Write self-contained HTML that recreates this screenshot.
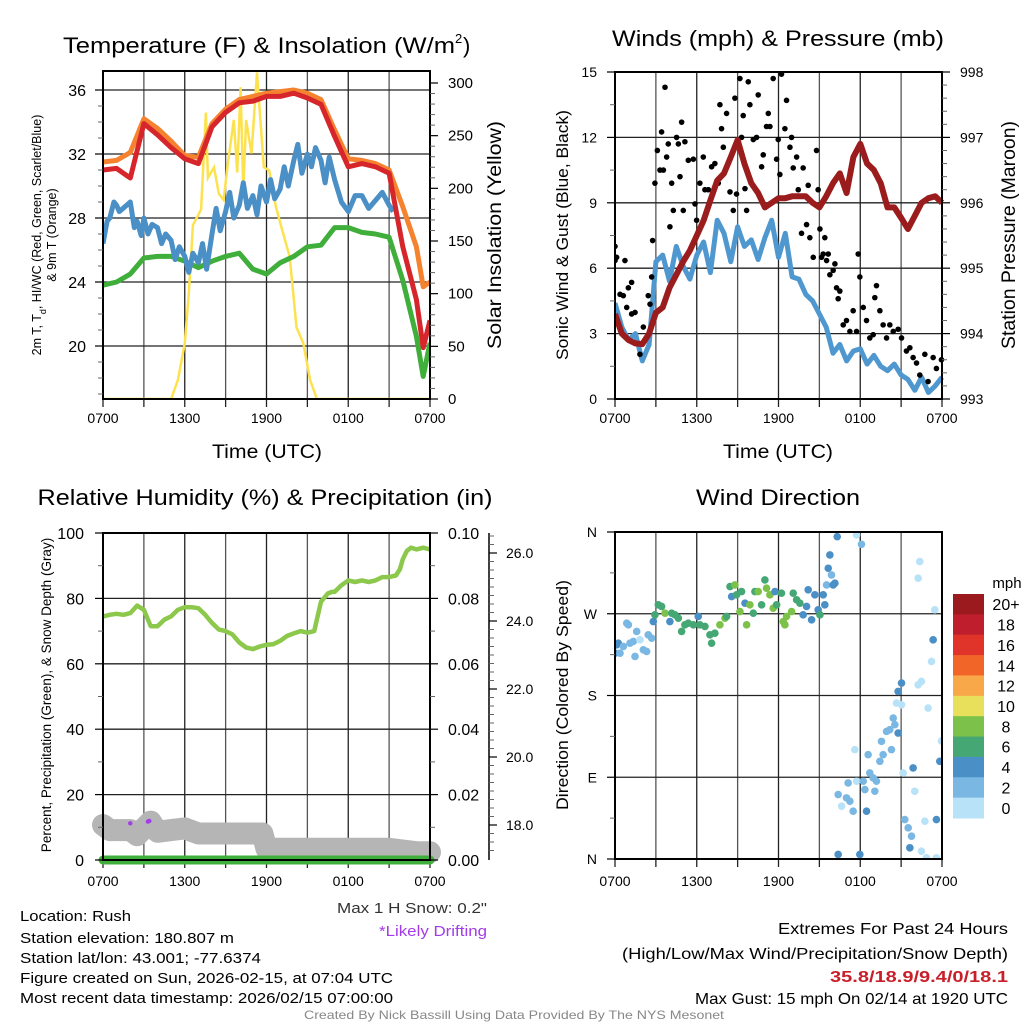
<!DOCTYPE html>
<html><head><meta charset="utf-8"><style>
html,body{margin:0;padding:0;background:#fff;}
svg{display:block;font-family:"Liberation Sans",sans-serif;}
</style></head><body>
<svg id="c" width="1024" height="1024" viewBox="0 0 1024 1024"></svg>
<script>
// ---------- DATA ----------
const hrs = [0,1,2,3,4,5,6,7,8,9,10,11,12,13,14,15,16,17,18,19,20,21,22,23,23.5,24];
const tempRed = [31.0,31.1,30.5,33.9,33.2,32.4,31.7,31.4,33.7,34.6,35.2,35.3,35.6,35.6,35.8,35.5,35.1,33.1,31.2,31.4,31.2,30.8,26.2,22.9,19.9,21.6];
const tempOrange = [31.5,31.6,32.1,34.2,33.6,32.8,31.9,31.8,33.9,34.8,35.4,35.6,35.8,35.9,36.0,35.8,35.4,33.5,31.7,31.6,31.4,31.0,28.7,26.2,23.7,24.0];
const tempGreen = [23.8,24.0,24.5,25.5,25.6,25.6,25.3,24.9,25.3,25.6,25.8,24.8,24.5,25.2,25.6,26.2,26.3,27.4,27.4,27.1,27.0,26.8,24.1,20.6,18.1,20.2];
const blueHrs = [0,0.3,0.5,0.8,1,1.2,2,2.3,2.5,2.8,3,3.3,3.6,4,4.3,4.6,5,5.3,5.6,6,6.3,6.6,7,7.3,7.6,8,8.3,8.6,9,9.3,9.6,10,10.3,10.6,11,11.3,11.6,12,12.3,12.6,13,13.3,13.6,14,14.3,14.6,15,15.3,15.6,16,16.3,16.6,17,17.5,18,18.5,19,19.5,20,20.5,21,21.3];
const tempBlue = [26.4,27.8,28.0,29.0,28.8,28.4,29.0,27.4,27.8,26.9,28.0,27.0,27.6,27.4,26.4,27.0,26.6,25.4,26.2,25.6,24.6,25.8,25.2,26.4,24.8,27.0,28.6,27.2,28.4,29.6,28.0,28.8,30.2,28.6,29.4,28.2,30.0,29.0,30.4,29.2,29.8,31.2,30.0,31.6,32.6,30.8,32.0,31.2,32.4,31.6,30.2,31.8,30.4,29.0,28.4,29.4,29.4,28.6,29.1,29.6,28.8,28.4];
const solarHrs = [0,5.0,5.5,6.0,6.3,6.6,7.2,7.55,7.7,8.15,8.5,8.85,9.2,9.6,9.85,10.1,10.3,10.5,10.9,11.3,11.8,12.2,12.7,13.2,13.7,14.2,14.7,15.2,15.7,24];
const solarVals = [0,0,18,53,100,165,180,272,210,220,195,189,227,265,215,296,196,265,233,310,220,217,182,158,135,68,53,18,0,0];
const spdHrs = [0,0.5,1,1.5,2,2.5,3,3.5,4,4.5,5,5.5,6,6.5,7,7.5,8,8.5,9,9.5,10,10.5,11,11.5,12,12.5,13,13.5,14,14.5,15,15.5,16,16.5,17,17.5,18,18.5,19,19.5,20,20.5,21,21.5,22,22.5,23,23.5,24];
const windSpd = [4.4,3.3,2.7,3.0,1.75,2.5,6.3,6.6,5.4,7.0,6.1,5.5,6.6,7.2,5.8,8.2,7.6,6.3,7.9,7.0,7.3,6.4,7.4,8.2,6.5,7.6,5.6,5.5,4.8,4.5,3.9,3.3,2.1,2.5,1.75,2.2,2.3,1.6,2.0,1.5,1.3,1.6,1.1,0.9,0.4,1.0,0.3,0.6,1.0];
const pressure = [994.30,994.0,993.9,993.85,993.84,994.0,994.32,994.4,994.7,994.9,995.1,995.27,995.5,995.73,996.04,996.34,996.45,996.7,996.96,996.6,996.3,996.15,995.93,996.0,996.07,996.07,996.1,996.1,996.1,996.0,995.93,996.1,996.3,996.45,996.15,996.7,996.9,996.6,996.5,996.3,995.93,995.93,995.77,995.6,995.8,996.0,996.07,996.1,996.0];
const gustHrs = [0,0,0.12,0.73,0.37,0.61,0.98,1.22,0.86,1.22,1.47,1.83,2.08,2.44,2.57,2.69,2.76,2.93,3.11,3.30,3.42,3.55,3.67,3.79,3.91,4.03,4.16,4.28,4.52,4.65,4.77,4.89,5.01,5.13,5.38,5.75,5.87,5.99,6.23,6.48,6.60,6.85,7.09,7.33,7.58,7.70,7.82,7.95,8.19,8.44,8.68,8.80,8.92,9.17,9.29,9.41,9.54,9.66,9.78,9.90,10.15,10.39,10.51,10.76,10.88,11.12,11.25,11.37,11.61,11.86,11.98,12.10,12.22,12.47,12.59,12.84,12.96,13.08,13.33,13.45,13.69,13.81,14.06,14.18,14.30,14.55,14.79,14.91,15.04,15.16,15.28,15.40,15.53,15.65,15.77,16.01,16.14,16.26,16.38,16.50,16.75,16.99,17.24,17.48,17.73,17.85,17.97,18.22,18.46,18.70,18.95,19.07,19.19,19.44,19.68,19.93,20.17,20.42,20.78,21.03,21.39,21.64,21.88,22.13,22.37,22.74,22.98,23.35,23.59,23.96];
const gustVals = [7.0,6.35,6.5,6.35,4.8,4.74,5.1,5.35,4.2,3.9,3.97,2.05,3.3,4.74,4.35,5.6,7.27,9.9,11.4,10.5,12.25,10.5,14.3,11.1,11.7,7.9,9.9,8.65,12.0,11.7,10.2,12.7,8.65,11.8,10.95,11.0,8.95,8.2,9.9,11.1,9.6,9.6,10.65,10.8,9.9,13.5,12.4,11.55,13.1,9.5,8.65,13.8,9.4,14.7,12.0,13.0,9.65,8.65,14.55,13.5,11.9,12.0,13.95,10.65,11.2,12.5,13.1,12.5,14.7,11.0,11.9,10.3,14.9,12.4,13.7,11.55,12.0,10.6,11.1,9.6,7.6,10.6,8.0,9.8,7.4,6.5,11.4,9.6,7.8,6.5,6.65,7.4,6.35,6.65,5.7,5.9,6.2,5.1,4.6,4.95,3.4,3.6,3.1,4.05,3.1,6.65,5.6,4.2,3.6,2.8,2.95,4.65,5.2,4.05,3.4,2.8,3.4,3.1,3.2,2.8,2.2,2.35,1.9,1.65,1.1,2.05,0.8,1.9,1.4,1.8];
const rhHrs = [0,0.5,1,1.5,2,2.5,3,3.5,4,4.5,5,5.5,6,6.5,7,7.5,8,8.5,9,9.5,10,10.5,11,11.5,12,12.5,13,13.5,14,14.5,15,15.5,16,16.5,16.8,17,17.5,18,18.5,19,19.5,20,20.5,21,21.5,21.8,22,22.3,22.6,23,23.5,24];
const rhVals = [74.5,75,75.3,75,75.5,77.8,76.5,71.5,71.5,73.5,74.5,76.5,77.3,77.3,77.0,75,72.5,70.5,70,69,66.5,65,64.5,65.3,65.8,66,67,68.5,69.3,70,69.5,70,79,81.5,82,82,84,85.5,85,85.5,85,85.5,86.5,86.5,87,89,92,94.5,95.5,95,95.5,95];
const snowHrs = [0,0.5,1,2,2.5,3,3.5,4,5,6,7,8,9,10,11,11.7,12,13,14,15,16,17,18,19,20,21,22,23,24];
const snowDepth = [18.0,17.85,17.85,17.85,17.7,17.9,18.1,17.8,17.85,17.9,17.75,17.75,17.75,17.75,17.75,17.75,17.3,17.3,17.3,17.3,17.3,17.3,17.3,17.3,17.3,17.3,17.25,17.2,17.2];
const precipVals = [0,0];
const driftHrs = [2.0,3.3,3.4];
const driftDepth = [18.05,18.1,18.12];
const dirHrs = [0,0.12,0.24,0.37,0.61,0.86,0.98,1.1,1.34,1.47,1.59,1.83,2.08,2.32,2.44,2.69,2.81,2.93,3.18,3.42,3.67,4.03,4.16,4.4,4.65,4.89,5.13,5.38,5.75,6.11,6.23,6.6,6.97,7.33,7.09,7.7,8.07,8.19,8.44,8.56,8.8,8.92,9.17,9.29,9.54,9.66,9.9,10.15,10.27,10.51,10.76,11,11.12,11.37,11.61,11.74,11.86,12.22,12.35,12.47,12.59,12.96,13.08,13.33,13.57,13.81,14.06,14.18,14.43,14.67,14.91,15.04,15.28,15.4,15.53,15.65,15.77,15.89,16.01,16.14,16.31,17.73,18.09,16.38,16.63,16.99,17.11,17.24,17.48,17.6,17.73,18.22,18.34,18.46,18.58,18.7,18.95,19.07,19.19,19.44,19.56,19.68,19.93,20.17,20.29,20.42,20.54,20.66,20.78,20.78,21.03,21.03,21.15,21.27,21.52,21.64,21.76,21.88,22.0,22.25,22.49,22.74,22.98,23.23,23.35,23.47,22.37,22.25,22.49,22.86,23.59,23.84,23.96,23.59,16.38,17.97];
const dirVals = [226.6,235.8,237.6,226.6,234,259.6,257.8,237.6,239.5,223,250.5,241.3,230.3,228.5,246.8,243.1,261.4,268.8,279.8,278,270.6,261.4,270.6,268.8,265.1,250.5,257.8,259.6,257.8,267,257.8,256,246.8,248.6,237.6,257.8,265.1,267,299.9,288.9,301.7,290.8,272.4,294.4,281.6,257.8,279.8,270.6,294.4,294.4,279.8,307.2,298.1,290.8,276.1,294.4,279.8,292.6,261.4,257.8,267,272.4,292.6,285.3,281.6,268.8,278,296.3,263.3,290.8,274.3,268.8,290.8,279.8,301.7,320.1,334.7,312.7,301.7,303.6,354.9,356.7,346.5,71,58.1,67.3,83.7,63.6,52.6,120.4,85.6,85.6,76.4,52.6,114.9,94.7,89.2,74.6,85.6,107.6,129.5,114.9,140.5,142.4,120.4,155.2,147.9,171.7,138.7,184.5,193.7,169.8,94.7,43.4,34.3,12.3,25.1,100.2,74.6,191.8,195.5,41.6,166.2,217.5,241.3,274.3,327.4,309.1,8.6,1.3,1.3,107.6,130,43.4,5,5];
const dirSpd = [5,5,5,3,3,3,3,3,3,3,3,1,3,3,3,3,5,7,7,7,9,5,7,7,7,7,7,7,7,5,7,7,7,7,7,9,9,7,7,5,9,7,9,7,5,9,9,7,7,9,7,7,9,9,9,5,7,7,9,9,9,9,7,7,7,5,5,5,5,5,5,7,5,5,3,5,5,3,5,5,5,1,3,3,1,3,3,3,3,1,1,3,3,5,3,3,3,3,3,3,3,3,3,3,3,3,3,1,5,5,5,1,1,3,3,5,3,5,1,1,1,1,1,1,5,1,1,1,1,1,1,5,1,5,5,5];
const speedLabels = ["20+","18","16","14","12","10","8","6","4","2","0"];
const speedColors = ["#9a1a1e","#bf1e2d","#e0342a","#f26529","#f8a848","#e8e05a","#7cc24a","#45a874","#4a8fc6","#7ab8e3","#b8e2f8"];
const timeLabels = ["0700","1300","1900","0100","0700"];

// ---------- HELPERS ----------
const NS="http://www.w3.org/2000/svg";
const svg=document.getElementById('c');
function el(tag,attrs,parent){const e=document.createElementNS(NS,tag);for(const k in attrs)e.setAttribute(k,attrs[k]);(parent||svg).appendChild(e);return e;}
function lin(d0,d1,r0,r1){return v=>r0+(v-d0)*(r1-r0)/(d1-d0);}
function txt(s,x,y,size,anchor,fill,extra,parent){const a=Object.assign({x:x,y:y,'font-size':size,'text-anchor':anchor||'start',fill:fill||'#000'},extra||{});if(a.textLength)a.lengthAdjust='spacingAndGlyphs';const t=el('text',a,parent);t.textContent=s;return t;}
function pathFrom(xs,ys,fx,fy){return xs.map((h,i)=>(i?'L':'M')+fx(h).toFixed(1)+' '+fy(ys[i]).toFixed(1)).join(' ');}

function frame(x0,x1,y0,y1,hGrid,name,labY){
  const g=el('g',{});
  
  
  for(let h=3;h<24;h+=3){const x=x0+(x1-x0)*h/24;el('line',{x1:x,y1:y0,x2:x,y2:y1,stroke:(h%6? '#555':'#222'),'stroke-width':1.3},g);
    el('line',{x1:x,y1:y1,x2:x,y2:y1+8,stroke:'#222','stroke-width':1.3},g);}
  el('line',{x1:x0,y1:y1,x2:x0,y2:y1+8,stroke:'#222','stroke-width':1.3},g);
  el('line',{x1:x1,y1:y1,x2:x1,y2:y1+8,stroke:'#222','stroke-width':1.3},g);
  hGrid.forEach(y=>el('line',{x1:x0,y1:y,x2:x1,y2:y,stroke:'#222','stroke-width':1.3},g));
  timeLabels.forEach((s,i)=>{const t=txt(s,x0+(x1-x0)*i/4,labY,14,'middle','#000',{},g);
    
    });
  return g;
}
function border(x0,x1,y0,y1,name){const r=el('rect',{x:x0,y:y0,width:x1-x0,height:y1-y0,fill:'none',stroke:'#000','stroke-width':2});
  
  }
function ticksLeft(x,yv,labels,fy,minor,g){labels.forEach(v=>{const y=fy(v);el('line',{x1:x-8,y1:y,x2:x,y2:y,stroke:'#000','stroke-width':1.2},g);});
  minor.forEach(v=>{const y=fy(v);el('line',{x1:x-5,y1:y,x2:x,y2:y,stroke:'#666','stroke-width':1},g);});}
function ticksRight(x,labels,fy,minor,g){labels.forEach(v=>{const y=fy(v);el('line',{x1:x,y1:y,x2:x+8,y2:y,stroke:'#000','stroke-width':1.2},g);});
  minor.forEach(v=>{const y=fy(v);el('line',{x1:x,y1:y,x2:x+5,y2:y,stroke:'#666','stroke-width':1},g);});}

// ---------- PANEL 1 ----------
(function(){
 const x0=103,x1=430,y0=71,y1=399;
 const fx=lin(0,24,x0,x1), fy=lin(36,20,90,346), fs=lin(0,300,399,83);
 frame(x0,x1,y0,y1,[36,32,28,24,20].map(fy),'temp-panel',423);
 const clip=el('clipPath',{id:'c1'});el('rect',{x:x0,y:y0,width:x1-x0,height:y1-y0},clip);
 const d=el('g',{'clip-path':'url(#c1)'});
 let p=el('path',{d:pathFrom(solarHrs,solarVals,fx,fs),fill:'none',stroke:'#fde24f','stroke-width':2.5},d);
 
 
 p=el('path',{d:pathFrom(hrs,tempGreen,fx,fy),fill:'none',stroke:'#3fae3a','stroke-width':5,'stroke-linejoin':'round'},d);
 
 
 p=el('path',{d:pathFrom(blueHrs,tempBlue,fx,fy),fill:'none',stroke:'#4a8fc6','stroke-width':5,'stroke-linejoin':'round'},d);
 
 
 p=el('path',{d:pathFrom(hrs,tempOrange,fx,fy),fill:'none',stroke:'#f5822f','stroke-width':5,'stroke-linejoin':'round'},d);
 
 
 p=el('path',{d:pathFrom(hrs,tempRed,fx,fy),fill:'none',stroke:'#d7262b','stroke-width':5,'stroke-linejoin':'round'},d);
 
 
 border(x0,x1,y0,y1,'temp-panel');
 const lt=[36,32,28,24,20], lm=[35,34,33,31,30,29,27,26,25,23,22,21,19,18,17];
 ticksLeft(x0,null,lt,fy,lm,svg);
 lt.forEach(v=>txt(String(v),86,fy(v)+6,16,'end'));
 const rt=[0,50,100,150,200,250,300], rm=[10,20,30,40,60,70,80,90,110,120,130,140,160,170,180,190,210,220,230,240,260,270,280,290];
 ticksRight(x1,rt,fs,rm,svg);
 rt.forEach(v=>txt(String(v),448,fs(v)+5,15,'start'));
 let t=txt('Temperature (F) & Insolation (W/m',63,53,22,'start','#000',{textLength:392});
 
 
 txt('2',455,43,13,'start');txt(')',463,53,22,'start');
 t=txt('Time (UTC)',267,458,19,'middle','#000',{textLength:110});
 
 
 t=el('text',{transform:'translate(41,235) rotate(-90)','font-size':12.5,'text-anchor':'middle'});
 t.innerHTML='2m T, T<tspan baseline-shift="sub" font-size="9">d</tspan>, HI/WC (Red, Green, Scarlet/Blue)';
 
 
 txt('& 9m T (Orange)',0,0,12.5,'middle','#000',{transform:'translate(56,235) rotate(-90)'});
 t=txt('Solar Insolation (Yellow)',0,0,19,'middle','#000',{transform:'translate(501,235) rotate(-90)',textLength:228});
 
 
})();

// ---------- PANEL 2 ----------
(function(){
 const x0=615,x1=942,y0=72,y1=399;
 const fx=lin(0,24,x0,x1), fy=lin(0,15,y1,y0), fp=lin(993,998,y1,y0);
 frame(x0,x1,y0,y1,[3,6,9,12].map(fy),'wind-panel',423);
 const clip=el('clipPath',{id:'c2'});el('rect',{x:x0,y:y0-4,width:x1-x0+4,height:y1-y0+8},clip);
 const d=el('g',{'clip-path':'url(#c2)'});
 let p=el('path',{d:pathFrom(spdHrs,windSpd,fx,fy),fill:'none',stroke:'#4f97cf','stroke-width':5,'stroke-linejoin':'round'},d);
 
 
 gustHrs.forEach((h,i)=>{const c=el('circle',{cx:fx(h),cy:fy(gustVals[i]),r:2.8,fill:'#000'},d);
  
  });
 p=el('path',{d:pathFrom(spdHrs,pressure,fx,fp),fill:'none',stroke:'#9b1c1c','stroke-width':6,'stroke-linejoin':'round'},d);
 
 
 border(x0,x1,y0,y1,'wind-panel');
 const lt=[0,3,6,9,12,15], lm=[1.5,4.5,7.5,10.5,13.5];
 ticksLeft(x0,null,lt,fy,lm,svg);
 lt.forEach(v=>txt(String(v),597,fy(v)+5,14,'end'));
 const rt=[993,994,995,996,997,998], rm=[];
 for(let v=993.2;v<998;v+=0.2){if(Math.abs(v-Math.round(v))>0.05)rm.push(v);}
 ticksRight(x1,rt,fp,rm,svg);
 rt.forEach(v=>txt(String(v),960,fp(v)+5,14,'start'));
 let t=txt('Winds (mph) & Pressure (mb)',778,46,22,'middle','#000',{textLength:332});
 
 
 txt('Time (UTC)',778,458,19,'middle','#000',{textLength:110});
 t=txt('Sonic Wind & Gust (Blue, Black)',0,0,17,'middle','#000',{transform:'translate(568,235) rotate(-90)',textLength:250});
 
 
 t=txt('Station Pressure (Maroon)',0,0,19,'middle','#000',{transform:'translate(1015,235) rotate(-90)',textLength:228});
 
 
})();

// ---------- PANEL 3 ----------
(function(){
 const x0=103,x1=430,y0=533,y1=860;
 const fx=lin(0,24,x0,x1), fy=lin(0,100,y1,y0), fpr=lin(0,0.1,y1,y0), fd=lin(18,26,825,553);
 frame(x0,x1,y0,y1,[20,40,60,80].map(fy),'rh-panel',886);
 const clip=el('clipPath',{id:'c3'});el('rect',{x:x0-14,y:y0,width:x1-x0+28,height:y1-y0+14},clip);
 const d=el('g',{'clip-path':'url(#c3)'});
 let p=el('path',{d:pathFrom(snowHrs,snowDepth,fx,fd),fill:'none',stroke:'#b5b5b5','stroke-width':22,'stroke-linejoin':'round','stroke-linecap':'round'},d);
 
 
 driftHrs.forEach((h,i)=>{const c=el('circle',{cx:fx(h),cy:fd(driftDepth[i]),r:2.2,fill:'#a43ae8'},d);
  
  });
 p=el('path',{d:pathFrom([0,24],precipVals,fx,fpr),fill:'none',stroke:'#3fae3a','stroke-width':9,'stroke-linecap':'round'},d);
 
 
 p=el('path',{d:pathFrom(rhHrs,rhVals,fx,fy),fill:'none',stroke:'#8cc84b','stroke-width':4.5,'stroke-linejoin':'round'},d);
 
 
 border(x0,x1,y0,y1,'rh-panel');
 const lt=[0,20,40,60,80,100], lm=[10,30,50,70,90];
 ticksLeft(x0,null,lt,fy,lm,svg);
 lt.forEach(v=>txt(String(v),84,fy(v)+6,16,'end'));
 const rt=[0,0.02,0.04,0.06,0.08,0.1], rm=[0.01,0.03,0.05,0.07,0.09];
 ticksRight(x1,rt,fpr,rm,svg);
 rt.forEach(v=>txt(v.toFixed(2),448,fpr(v)+6,16,'start'));
 el('line',{x1:489,y1:y0,x2:489,y2:y1,stroke:'#000','stroke-width':1.5});
 const st=[18,20,22,24,26], sm=[17.25,17.5,17.75,18.25,18.5,18.75,19,19.25,19.5,19.75,20.25,20.5,20.75,21,21.25,21.5,21.75,22.25,22.5,22.75,23,23.25,23.5,23.75,24.25,24.5,24.75,25,25.25,25.5,25.75,26.25,26.5];
 ticksRight(489,st,fd,sm,svg);
 st.forEach(v=>txt(v.toFixed(1),506,fd(v)+5,14,'start'));
 let t=txt('Relative Humidity (%) & Precipitation (in)',265,505,22,'middle','#000',{textLength:455});
 
 
 t=txt('Percent, Precipitation (Green), & Snow Depth (Gray)',0,0,13.5,'middle','#000',{transform:'translate(51,695) rotate(-90)'});
 
 
 t=txt('Max 1 H Snow: 0.2"',487,913,15,'end','#333',{textLength:150});
 
 
 t=txt('*Likely Drifting',487,936,15,'end','#a43ae8',{textLength:108});
 
 
})();

// ---------- PANEL 4 ----------
(function(){
 const x0=615,x1=942,y0=532,y1=859;
 const fx=lin(0,24,x0,x1), fy=lin(0,360,y1,y0);
 frame(x0,x1,y0,y1,[90,180,270].map(fy),'direction-panel',886);
 const clip=el('clipPath',{id:'c4'});el('rect',{x:x0,y:y0,width:x1-x0,height:y1-y0},clip);
 const d=el('g',{'clip-path':'url(#c4)'});
 const colorFor=s=>speedColors[10-Math.min(10,Math.floor((s===undefined?1:s)/2))];
 dirHrs.forEach((h,i)=>{const c=el('circle',{cx:fx(h),cy:fy(dirVals[i]),r:3.8,fill:colorFor(dirSpd[i])},d);
  
  });
 border(x0,x1,y0,y1,'direction-panel');
 const lt=[0,90,180,270,360], ln=['N','E','S','W','N'];
 ticksLeft(x0,null,lt,fy,[45,135,225,315],svg);
 lt.forEach((v,i)=>txt(ln[i],597,fy(v)+5,14,'end'));
 let t=txt('Wind Direction',778,505,22,'middle','#000',{textLength:164});
 
 
 t=txt('Direction (Colored By Speed)',0,0,17,'middle','#000',{transform:'translate(568,695) rotate(-90)',textLength:230});
 
 
 const cb=el('g',{});
 
 
 const bh=(818-594)/speedColors.length;
 speedColors.forEach((c,i)=>{el('rect',{x:953,y:594+i*bh,width:31,height:bh+0.5,fill:c},cb);
  txt(speedLabels[i],1006,594+i*bh+bh/2+6,16,'middle','#000',{},cb);});
 txt('mph',1007,588,15,'middle','#000',{},cb);
})();

// ---------- FOOTER ----------
(function(){
 const lines=[['Location: Rush',921,111],['Station elevation: 180.807 m',943,214],['Station lat/lon: 43.001; -77.6374',963,241],['Figure created on Sun, 2026-02-15, at 07:04 UTC',983,373],['Most recent data timestamp: 2026/02/15 07:00:00',1003,373]];
 lines.forEach(l=>{const t=txt(l[0],20,l[1],15,'start','#000',{textLength:l[2]});
  
  });
 let t=txt('Extremes For Past 24 Hours',1008,934,16,'end','#000',{textLength:230});
 
 
 t=txt('(High/Low/Max Wind/Precipitation/Snow Depth)',1008,959,16,'end','#000',{textLength:386});
 
 
 t=txt('35.8/18.9/9.4/0/18.1',1008,982,16,'end','#c8202a',{textLength:178,'font-weight':'bold'});
 
 
 t=txt('Max Gust: 15 mph On 02/14 at 1920 UTC',1008,1004,16,'end','#000',{textLength:313});
 
 
 t=txt('Created By Nick Bassill Using Data Provided By The NYS Mesonet',514,1019,12,'middle','#888',{textLength:420});
 
 
})();
</script>
</body></html>
